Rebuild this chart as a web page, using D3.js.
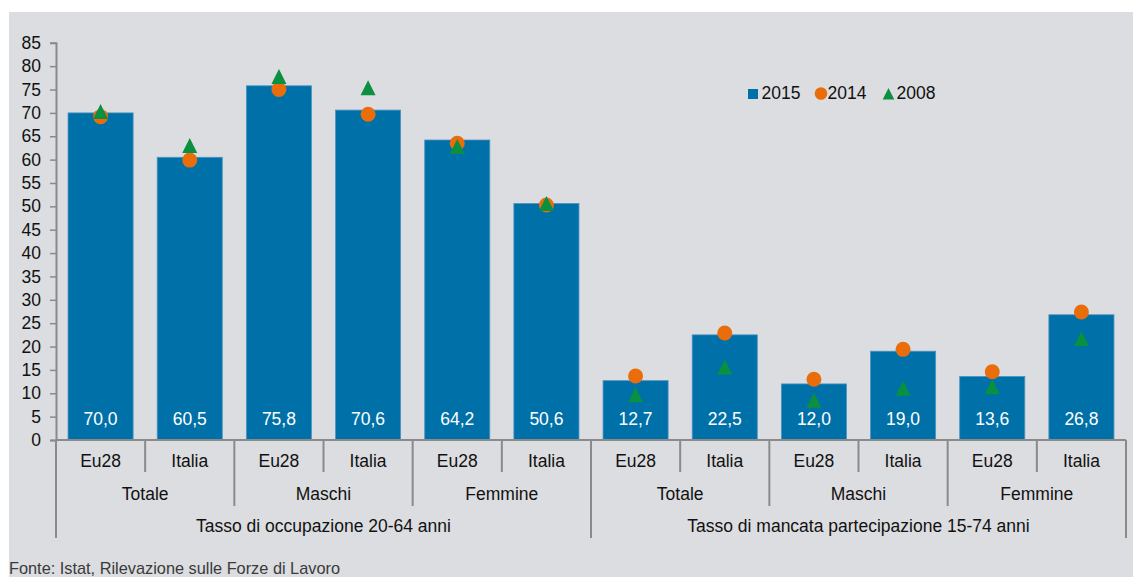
<!DOCTYPE html>
<html>
<head>
<meta charset="utf-8">
<script src="https://cdn.jsdelivr.net/npm/d3@7"></script>
<style>
  body { margin: 0; background: #fff; }
  svg { display: block; font-family: "Liberation Sans", Arial, sans-serif; }
</style>
</head>
<body>
<svg id="chart" width="1133" height="577"></svg>
<script>
// data
var countries = ["Eu28", "Italia", "Eu28", "Italia", "Eu28", "Italia",
                 "Eu28", "Italia", "Eu28", "Italia", "Eu28", "Italia"];
var sexes = ["Totale", "Maschi", "Femmine", "Totale", "Maschi", "Femmine"];
var indicators = ["Tasso di occupazione 20-64 anni", "Tasso di mancata partecipazione 15-74 anni"];
var v2015 = [70.0, 60.5, 75.8, 70.6, 64.2, 50.6, 12.7, 22.5, 12.0, 19.0, 13.6, 26.8];
var v2014 = [69.2, 59.9, 75.0, 69.7, 63.5, 50.3, 13.7, 22.9, 13.0, 19.4, 14.6, 27.4];
var v2008 = [70.3, 63.0, 77.8, 75.4, 62.8, 50.6, 9.7, 15.6, 8.5, 11.1, 11.4, 21.7];
var yTicks = [0, 5, 10, 15, 20, 25, 30, 35, 40, 45, 50, 55, 60, 65, 70, 75, 80, 85];
var seriesNames = ["2015", "2014", "2008"];

var blue = "#0071a8", orange = "#ea6d0b", green = "#0b8f40", axisCol = "#8a8a8a";

var svg = d3.select("#chart");

// gray panel
svg.append("rect").attr("x", 9).attr("y", 12).attr("width", 1124).attr("height", 565)
  .attr("fill", "#dcdde0");

var plotLeft = 56, plotRight = 1126, plotTop = 42.8, plotBase = 440;

var x = d3.scaleBand().domain(d3.range(countries.length)).range([plotLeft, plotRight])
  .paddingInner(0.27).paddingOuter(0.135);
var y = d3.scaleLinear().domain([0, 85]).range([plotBase, plotTop]);

// y axis
var yAxis = svg.append("g").attr("transform", "translate(" + plotLeft + ",0)")
  .call(d3.axisLeft(y).tickValues(yTicks).tickSize(6).tickPadding(9));
yAxis.select(".domain").attr("stroke", axisCol).attr("stroke-width", 2);
yAxis.selectAll(".tick line").attr("stroke", axisCol).attr("stroke-width", 1.5);
yAxis.selectAll(".tick text").attr("fill", "#111").style("font-size", "17.5px")
  .style("font-family", "Liberation Sans, Arial, sans-serif");

// bars
svg.selectAll("rect.bar").data(v2015).enter().append("rect").attr("class", "bar")
  .attr("x", function(d, i) { return x(i); })
  .attr("y", function(d) { return y(d); })
  .attr("width", x.bandwidth())
  .attr("height", function(d) { return plotBase - y(d); })
  .attr("fill", blue).attr("stroke", "#4d93c3").attr("stroke-width", 0.8);

// value labels
var fmt = function(d) { return d3.format(".1f")(d).replace(".", ","); };
svg.selectAll("text.val").data(v2015).enter().append("text").attr("class", "val")
  .attr("x", function(d, i) { return x(i) + x.bandwidth() / 2; })
  .attr("y", 424.5).attr("text-anchor", "middle")
  .attr("fill", "#fff").style("font-size", "17.5px").text(fmt);

// 2014 circles
svg.selectAll("circle.s14").data(v2014).enter().append("circle").attr("class", "s14")
  .attr("cx", function(d, i) { return x(i) + x.bandwidth() / 2; })
  .attr("cy", function(d) { return y(d); })
  .attr("r", 7.5).attr("fill", orange);

// 2008 triangles
function tri(cx, cy, h) {
  return "M" + cx + "," + (cy - h) + "L" + (cx + h) + "," + (cy + h) + "L" + (cx - h) + "," + (cy + h) + "Z";
}
svg.selectAll("path.s08").data(v2008).enter().append("path").attr("class", "s08")
  .attr("d", function(d, i) { return tri(x(i) + x.bandwidth() / 2, y(d), 7.5); })
  .attr("fill", green);

// x axis line
svg.append("line").attr("x1", plotLeft).attr("x2", plotRight).attr("y1", plotBase).attr("y2", plotBase)
  .attr("stroke", axisCol).attr("stroke-width", 2);

// separators: level depends on boundary
var step = x.step();
d3.range(countries.length + 1).forEach(function(i) {
  var xx = plotLeft + i * step;
  var yEnd = (i % 6 === 0) ? 538 : (i % 2 === 0 ? 506 : 472);
  svg.append("line").attr("x1", xx).attr("x2", xx).attr("y1", plotBase).attr("y2", yEnd)
    .attr("stroke", axisCol).attr("stroke-width", 2);
});

// category labels
svg.selectAll("text.cat").data(countries).enter().append("text").attr("class", "cat")
  .attr("x", function(d, i) { return plotLeft + (i + 0.5) * step; })
  .attr("y", 467).attr("text-anchor", "middle").attr("fill", "#111")
  .style("font-size", "17.5px").text(function(d) { return d; });

svg.selectAll("text.sex").data(sexes).enter().append("text").attr("class", "sex")
  .attr("x", function(d, i) { return plotLeft + (i * 2 + 1) * step; })
  .attr("y", 499.5).attr("text-anchor", "middle").attr("fill", "#111")
  .style("font-size", "17.5px").text(function(d) { return d; });

svg.selectAll("text.ind").data(indicators).enter().append("text").attr("class", "ind")
  .attr("x", function(d, i) { return plotLeft + (i * 6 + 3) * step; })
  .attr("y", 532).attr("text-anchor", "middle").attr("fill", "#111")
  .style("font-size", "17.5px").text(function(d) { return d; });

// legend
var lg = svg.append("g").attr("transform", "translate(748,99)");
lg.append("rect").attr("x", 0).attr("y", -10).attr("width", 10).attr("height", 10).attr("fill", blue);
lg.append("text").attr("x", 13.5).attr("y", 0).style("font-size", "17.5px").attr("fill", "#111").text(seriesNames[0]);
lg.append("circle").attr("cx", 73).attr("cy", -5.5).attr("r", 6.3).attr("fill", orange);
lg.append("text").attr("x", 79.5).attr("y", 0).style("font-size", "17.5px").attr("fill", "#111").text(seriesNames[1]);
lg.append("path").attr("d", tri(140.5, -5.3, 5.8)).attr("fill", green);
lg.append("text").attr("x", 148.5).attr("y", 0).style("font-size", "17.5px").attr("fill", "#111").text(seriesNames[2]);

// source
svg.append("text").attr("x", 9).attr("y", 573.5)
  .style("font-family", "'Liberation Sans Narrow', 'Arial Narrow', sans-serif")
  .style("font-size", "17px").attr("fill", "#3a3a3a")
  .attr("textLength", 331).attr("lengthAdjust", "spacingAndGlyphs")
  .text("Fonte: Istat, Rilevazione sulle Forze di Lavoro");
</script>
</body>
</html>
